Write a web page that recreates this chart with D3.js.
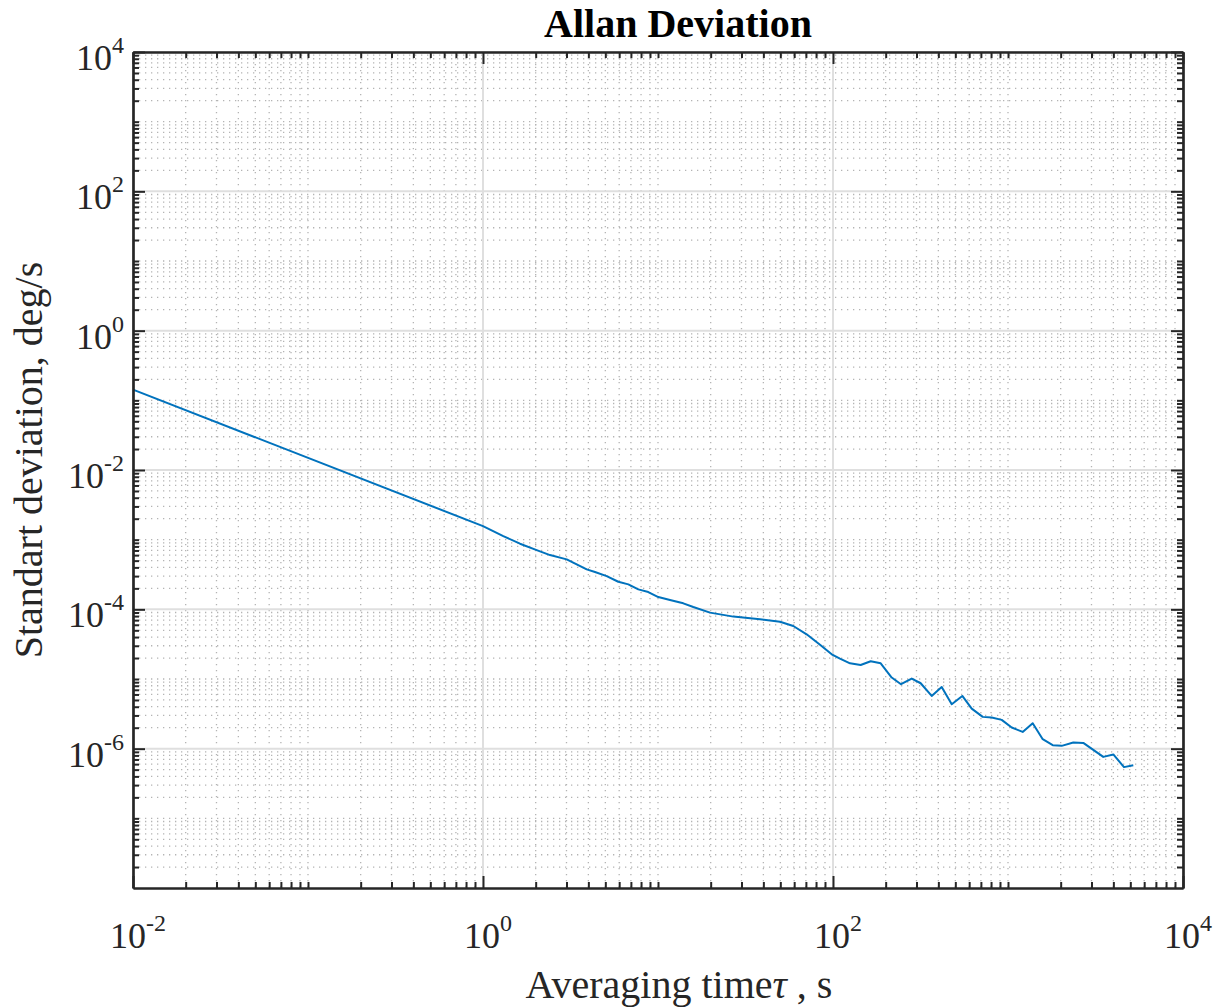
<!DOCTYPE html>
<html>
<head>
<meta charset="utf-8">
<script src="https://cdn.jsdelivr.net/npm/d3@7"></script>
<style>
body{margin:0;background:#fff;}
text{font-family:"Liberation Serif","Times New Roman",serif;fill:#262626;}
</style>
</head>
<body>
<svg id="chart" width="1226" height="1008"></svg>
<script>
// averaging time (s) and Allan deviation (deg/s)
var tau=[0.01,1.0,1.306,1.627,2.027,2.415,3.008,3.431,3.914,4.365,5.09,5.93,6.77,7.72,8.80,10.04,11.71,13.95,15.91,19.82,
	26.94,38.27,49.8,59.3,70.7,84.3,98.3,109.6,125.1,143.9,164.2,187.3,216.5,244.7,281.7,317.0,366.4,417.9,476.9,548.2,
	620.4,717.0,807.1,920.4,1050,1213,1384,1579,1801,2027,2361,2693,3072,3504,3998,4602,5200];
var sigma=[0.1426,1.564e-3,1.125e-3,8.75e-4,7.08e-4,6.01e-4,5.21e-4,4.42e-4,3.75e-4,3.43e-4,3.00e-4,2.49e-4,2.28e-4,1.935e-4,1.77e-4,1.50e-4,1.359e-4,1.22e-4,1.078e-4,8.97e-5,
	7.86e-5,7.19e-5,6.62e-5,5.76e-5,4.38e-5,3.10e-5,2.26e-5,1.965e-5,1.68e-5,1.59e-5,1.797e-5,1.68e-5,1.05e-5,8.41e-6,1.015e-5,8.69e-6,5.71e-6,7.69e-6,4.35e-6,5.71e-6,
	3.75e-6,2.86e-6,2.80e-6,2.59e-6,2.01e-6,1.74e-6,2.32e-6,1.368e-6,1.122e-6,1.097e-6,1.227e-6,1.21e-6,9.62e-7,7.62e-7,8.26e-7,5.43e-7,5.80e-7];
var xMajor=[1e-2,1e0,1e2,1e4];
var xTickExp=["-2","0","2","4"];
var yMajor=[1e4,1e2,1e0,1e-2,1e-4,1e-6];
var yTickExp=["4","2","0","-2","-4","-6"];

var plotL=133,plotR=1183,plotT=52,plotB=888;
var svg=d3.select("#chart");

var x=d3.scaleLog().domain([1e-2,1e4]).range([plotL,plotR]);
var y=d3.scaleLog().domain([1e-8,1e4]).range([plotB,plotT]);

function isMajor(v,list){
	for(var i=0;i<list.length;i++){
		if(Math.abs(Math.log10(v)-Math.log10(list[i]))<1e-9) return true;
	}
	return false;
}
var xMinor=x.ticks(50).filter(function(v){return !isMajor(v,xMajor);});
var yMinor=y.ticks(50).filter(function(v){return !isMajor(v,yMajor) && v>1.0001e-8 && v<0.9999e4;});

// grid
var grid=svg.append("g");
grid.selectAll(".vmin").data(xMinor).enter().append("line")
	.attr("x1",function(d){return x(d);}).attr("x2",function(d){return x(d);})
	.attr("y1",plotT).attr("y2",plotB)
	.attr("stroke","#b4b4b4").attr("stroke-width",1.3).attr("stroke-dasharray","1.3,4.7");
grid.selectAll(".hmin").data(yMinor).enter().append("line")
	.attr("y1",function(d){return y(d);}).attr("y2",function(d){return y(d);})
	.attr("x1",plotL).attr("x2",plotR)
	.attr("stroke","#b4b4b4").attr("stroke-width",1.3).attr("stroke-dasharray","1.3,4.7");
grid.selectAll(".vmaj").data(xMajor).enter().append("line")
	.attr("x1",function(d){return x(d);}).attr("x2",function(d){return x(d);})
	.attr("y1",plotT).attr("y2",plotB)
	.attr("stroke","#dfdfdf").attr("stroke-width",2);
grid.selectAll(".hmaj").data(yMajor).enter().append("line")
	.attr("y1",function(d){return y(d);}).attr("y2",function(d){return y(d);})
	.attr("x1",plotL).attr("x2",plotR)
	.attr("stroke","#dfdfdf").attr("stroke-width",2);

// curve
var line=d3.line()
	.x(function(d,i){return x(tau[i]);})
	.y(function(d,i){return y(sigma[i]);});
svg.append("path").datum(sigma)
	.attr("d",line)
	.attr("fill","none")
	.attr("stroke","#0072bd")
	.attr("stroke-width",2)
	.attr("stroke-linejoin","round");

// axes with inward ticks on all four sides
function styleAxis(g){
	g.selectAll("text").remove();
	g.selectAll("line").attr("stroke","#262626").attr("stroke-width",2);
	g.select(".domain").attr("stroke","#262626").attr("stroke-width",2.2);
}
svg.append("g").attr("transform","translate(0,"+plotB+")")
	.call(d3.axisBottom(x).tickValues(xMinor).tickSizeInner(-6).tickSizeOuter(0)).call(styleAxis);
svg.append("g").attr("transform","translate(0,"+plotB+")")
	.call(d3.axisBottom(x).tickValues(xMajor).tickSizeInner(-12).tickSizeOuter(0)).call(styleAxis);
svg.append("g").attr("transform","translate(0,"+plotT+")")
	.call(d3.axisTop(x).tickValues(xMinor).tickSizeInner(-6).tickSizeOuter(0)).call(styleAxis);
svg.append("g").attr("transform","translate(0,"+plotT+")")
	.call(d3.axisTop(x).tickValues(xMajor).tickSizeInner(-12).tickSizeOuter(0)).call(styleAxis);
svg.append("g").attr("transform","translate("+plotL+",0)")
	.call(d3.axisLeft(y).tickValues(yMinor).tickSizeInner(-6).tickSizeOuter(0)).call(styleAxis);
svg.append("g").attr("transform","translate("+plotL+",0)")
	.call(d3.axisLeft(y).tickValues(yMajor).tickSizeInner(-12).tickSizeOuter(0)).call(styleAxis);
svg.append("g").attr("transform","translate("+plotR+",0)")
	.call(d3.axisRight(y).tickValues(yMinor).tickSizeInner(-6).tickSizeOuter(0)).call(styleAxis);
svg.append("g").attr("transform","translate("+plotR+",0)")
	.call(d3.axisRight(y).tickValues(yMajor).tickSizeInner(-12).tickSizeOuter(0)).call(styleAxis);

// tick labels 10^n
var xl=svg.selectAll(".xlab").data(xMajor).enter().append("text")
	.attr("x",function(d){return x(d)+5;})
	.attr("y",948)
	.attr("text-anchor","middle")
	.style("font-size","36px");
xl.append("tspan").text("10");
xl.append("tspan").attr("dy",-17).style("font-size","24px").text(function(d,i){return xTickExp[i];});

var yl=svg.selectAll(".ylab").data(yMajor).enter().append("text")
	.attr("x",124)
	.attr("y",function(d){return y(d)+18;})
	.attr("text-anchor","end")
	.style("font-size","36px");
yl.append("tspan").text("10");
yl.append("tspan").attr("dy",-17).style("font-size","24px").text(function(d,i){return yTickExp[i];});

// title and axis labels
svg.append("text").attr("x",678).attr("y",37).attr("text-anchor","middle")
	.style("font-size","40px").style("font-weight","bold").style("fill","#000").text("Allan Deviation");

var xt=svg.append("text").attr("x",679).attr("y",998).attr("text-anchor","middle").style("font-size","40px");
xt.append("tspan").text("Averaging time");
xt.append("tspan").style("font-style","italic").text("\u03c4");
xt.append("tspan").text(" , s");

svg.append("text")
	.attr("transform","translate(42,460) rotate(-90)")
	.attr("text-anchor","middle")
	.style("font-size","40px")
	.text("Standart deviation, deg/s");
</script>
</body>
</html>
